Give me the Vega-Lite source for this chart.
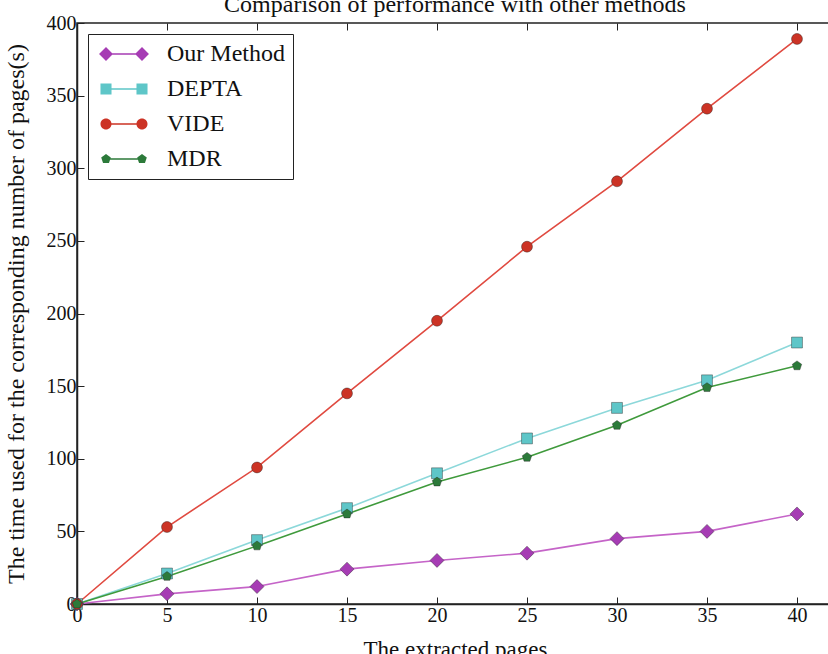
{
  "$schema": "https://vega.github.io/schema/vega-lite/v6.json",
  "width": 756,
  "height": 581,
  "autosize": {"type": "none"},
  "padding": {"left": 77, "top": 23, "right": 0, "bottom": 50},
  "background": "white",
  "config": {
    "font": "Liberation Serif",
    "view": {"stroke": "#222", "strokeWidth": 1.5},
    "axis": {"grid": false, "labelColor": "#111", "titleColor": "#111", "labelFont": "Liberation Serif", "titleFont": "Liberation Serif", "titleFontWeight": "normal", "domainColor": "#222", "domainWidth": 1.5, "tickColor": "#222", "tickWidth": 1},
    "legend": {"labelFont": "Liberation Serif"}
  },
  "title": {"text": "Comparison of performance with other methods", "font": "Liberation Serif", "fontSize": 24, "fontWeight": "normal", "color": "#111", "offset": -4, "anchor": "middle"},
  "data": {"values": [
    {"x": 0, "y": 0, "s": "Our Method"}, {"x": 5, "y": 7, "s": "Our Method"}, {"x": 10, "y": 12, "s": "Our Method"}, {"x": 15, "y": 24, "s": "Our Method"}, {"x": 20, "y": 30, "s": "Our Method"}, {"x": 25, "y": 35, "s": "Our Method"}, {"x": 30, "y": 45, "s": "Our Method"}, {"x": 35, "y": 50, "s": "Our Method"}, {"x": 40, "y": 62, "s": "Our Method"},
    {"x": 0, "y": 0, "s": "DEPTA"}, {"x": 5, "y": 21, "s": "DEPTA"}, {"x": 10, "y": 44, "s": "DEPTA"}, {"x": 15, "y": 66, "s": "DEPTA"}, {"x": 20, "y": 90, "s": "DEPTA"}, {"x": 25, "y": 114, "s": "DEPTA"}, {"x": 30, "y": 135, "s": "DEPTA"}, {"x": 35, "y": 154, "s": "DEPTA"}, {"x": 40, "y": 180, "s": "DEPTA"},
    {"x": 0, "y": 0, "s": "VIDE"}, {"x": 5, "y": 53, "s": "VIDE"}, {"x": 10, "y": 94, "s": "VIDE"}, {"x": 15, "y": 145, "s": "VIDE"}, {"x": 20, "y": 195, "s": "VIDE"}, {"x": 25, "y": 246, "s": "VIDE"}, {"x": 30, "y": 291, "s": "VIDE"}, {"x": 35, "y": 341, "s": "VIDE"}, {"x": 40, "y": 389, "s": "VIDE"},
    {"x": 0, "y": 0, "s": "MDR"}, {"x": 5, "y": 19, "s": "MDR"}, {"x": 10, "y": 40, "s": "MDR"}, {"x": 15, "y": 62, "s": "MDR"}, {"x": 20, "y": 84, "s": "MDR"}, {"x": 25, "y": 101, "s": "MDR"}, {"x": 30, "y": 123, "s": "MDR"}, {"x": 35, "y": 149, "s": "MDR"}, {"x": 40, "y": 164, "s": "MDR"}
  ]},
  "layer": [
    {
      "mark": {"type": "line", "strokeWidth": 1.6},
      "encoding": {
        "x": {"field": "x", "type": "quantitative", "scale": {"domain": [0, 42], "nice": false},
              "axis": {"orient": "bottom", "title": "The extracted pages", "titleFontSize": 23, "titlePadding": 13, "labelFontSize": 20, "labelPadding": 8, "tickSize": -7, "values": [0, 5, 10, 15, 20, 25, 30, 35, 40], "labelFlush": false}},
        "y": {"field": "y", "type": "quantitative", "scale": {"domain": [0, 400], "nice": false},
              "axis": {"title": "The time used for the corresponding number of pages(s)", "titleFontSize": 24, "titlePadding": 18, "labelFontSize": 20, "labelPadding": 8, "tickSize": -7, "values": [0, 50, 100, 150, 200, 250, 300, 350, 400]}},
        "stroke": {"field": "s", "type": "nominal", "legend": null,
                   "scale": {"domain": ["Our Method", "DEPTA", "VIDE", "MDR"], "range": ["#c564c8", "#8cd8da", "#e04a40", "#3f9a3c"]}},
        "detail": {"field": "s"}
      }
    },
    {
      "mark": {"type": "point", "filled": true, "opacity": 1, "size": 196, "stroke": "#222", "strokeWidth": 0.8, "strokeOpacity": 0.5},
      "encoding": {
        "x": {"field": "x", "type": "quantitative", "axis": {"orient": "top", "labels": false, "title": null, "domain": false, "tickSize": -7, "values": [5, 10, 15, 20, 25, 30, 35, 40]}},
        "y": {"field": "y", "type": "quantitative"},
        "fill": {"field": "s", "type": "nominal", "legend": null,
                 "scale": {"domain": ["Our Method", "DEPTA", "VIDE", "MDR"], "range": ["#a63cb4", "#5ec6c8", "#cc3325", "#2c7a3a"]}},
        "shape": {"field": "s", "type": "nominal", "legend": null,
                  "scale": {"domain": ["Our Method", "DEPTA", "VIDE", "MDR"], "range": [
                    "M0,-1L1,0L0,1L-1,0Z",
                    "M-0.78,-0.78L0.78,-0.78L0.78,0.78L-0.78,0.78Z",
                    "M0.78,0A0.78,0.78,0,1,1,-0.78,0A0.78,0.78,0,1,1,0.78,0Z",
                    "M0,-0.7L0.666,-0.216L0.411,0.566L-0.411,0.566L-0.666,-0.216Z"
                  ]}}
      }
    },
    {
      "mark": {"type": "point", "filled": true, "opacity": 0, "size": 196},
      "encoding": {
        "x": {"field": "x", "type": "quantitative", "axis": null},
        "y": {"field": "y", "type": "quantitative"},
        "fill": {"field": "s", "type": "nominal", "title": null,
                 "scale": {"domain": ["Our Method", "DEPTA", "VIDE", "MDR"], "range": ["#a63cb4", "#5ec6c8", "#cc3325", "#2c7a3a"]},
                 "legend": {"orient": "top-left", "offset": 11, "title": null, "symbolOpacity": 1, "symbolSize": 576, "symbolOffset": 16, "symbolStrokeWidth": 0, "labelFontSize": 24, "labelColor": "#111", "labelOffset": 31, "rowPadding": 11, "padding": 8, "strokeColor": "#222", "fillColor": "white"}},
        "shape": {"field": "s", "type": "nominal", "title": null,
                  "legend": {"orient": "top-left", "offset": 11, "title": null, "symbolOpacity": 1, "symbolSize": 576, "symbolOffset": 16, "symbolStrokeWidth": 0, "labelFontSize": 24, "labelColor": "#111", "labelOffset": 31, "rowPadding": 11, "padding": 8, "strokeColor": "#222", "fillColor": "white"},
                  "scale": {"domain": ["Our Method", "DEPTA", "VIDE", "MDR"], "range": [
                    "M-2.08,0L-1.5,-0.58L-0.92,0L-1.5,0.58Z M0.92,0L1.5,-0.58L2.08,0L1.5,0.58Z M-1.5,-0.065L1.5,-0.065L1.5,0.065L-1.5,0.065Z",
                    "M-1.96,-0.46L-1.04,-0.46L-1.04,0.46L-1.96,0.46Z M1.04,-0.46L1.96,-0.46L1.96,0.46L1.04,0.46Z M-1.5,-0.065L1.5,-0.065L1.5,0.065L-1.5,0.065Z",
                    "M-1.04,0A0.46,0.46,0,1,1,-1.96,0A0.46,0.46,0,1,1,-1.04,0Z M1.96,0A0.46,0.46,0,1,1,1.04,0A0.46,0.46,0,1,1,1.96,0Z M-1.5,-0.065L1.5,-0.065L1.5,0.065L-1.5,0.065Z",
                    "M-1.5,-0.42L-1.1,-0.13L-1.253,0.34L-1.747,0.34L-1.9,-0.13Z M1.5,-0.42L1.9,-0.13L1.747,0.34L1.253,0.34L1.1,-0.13Z M-1.5,-0.065L1.5,-0.065L1.5,0.065L-1.5,0.065Z"
                  ]}}
      }
    }
  ],
  "resolve": {"scale": {"shape": "independent", "fill": "independent"}}
}
